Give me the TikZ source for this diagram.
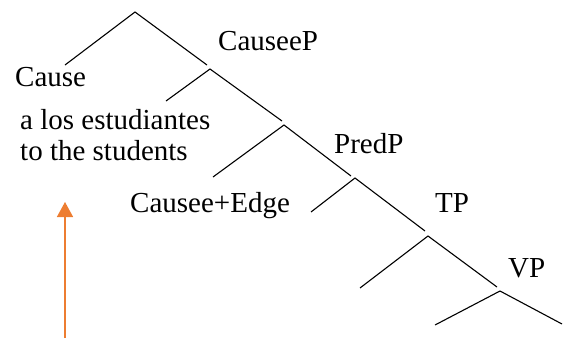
\documentclass[tikz,border=0pt]{standalone}
\usepackage{fontspec}
\setmainfont{Liberation Serif}
\usetikzlibrary{arrows.meta}
\definecolor{arroworange}{HTML}{ED7D31}
\tikzset{
  branch/.style={line width=1.1pt, black},
  lbl/.style={anchor=base west, inner sep=0pt, font=\fontsize{29}{34}\selectfont},
  pointer/.style={line width=1.5pt, arroworange, -{Triangle[length=15pt,width=16pt]}}
}
\begin{document}
\begin{tikzpicture}[x=1pt,y=-1pt]
\useasboundingbox (0,0) rectangle (564,338);
% junctions of the right-branching tree
\coordinate (r0) at (135,12);
\coordinate (l0) at (65,65);
\coordinate (e0) at (207,65);
\coordinate (r1) at (210,69);
\coordinate (l1) at (166,101);
\coordinate (e1) at (282,121);
\coordinate (r2) at (284,125);
\coordinate (l2) at (213,177);
\coordinate (e2) at (351,176);
\coordinate (r3) at (355,178);
\coordinate (l3) at (311,212);
\coordinate (e3) at (425,231);
\coordinate (r4) at (428,236);
\coordinate (l4) at (360,288);
\coordinate (e4) at (497,287);
\coordinate (r5) at (500,291);
\coordinate (l5) at (435,325);
\coordinate (e5) at (562,324);
\draw[branch] (l0) -- (r0) -- (e0);
\draw[branch] (l1) -- (r1) -- (e1);
\draw[branch] (l2) -- (r2) -- (e2);
\draw[branch] (l3) -- (r3) -- (e3);
\draw[branch] (l4) -- (r4) -- (e4);
\draw[branch] (l5) -- (r5) -- (e5);
% labels
\node[lbl] (causeep) at (218,50) {CauseeP};
\node[lbl] (cause) at (15,86) {Cause};
\node[lbl] (alos) at (20,129) {a los estudiantes};
\node[lbl] (tothe) at (20,160) {to the students};
\node[lbl] (predp) at (334,153) {PredP};
\node[lbl] (edge) at (130,212) {Causee+Edge};
\node[lbl] (tp) at (435,212) {TP};
\node[lbl] (vp) at (508,277) {VP};
% pointer arrow
\coordinate (arrbase) at (65,338);
\coordinate (arrtip) at (65,202);
\draw[pointer] (arrbase) -- (arrtip);
\end{tikzpicture}
\end{document}
